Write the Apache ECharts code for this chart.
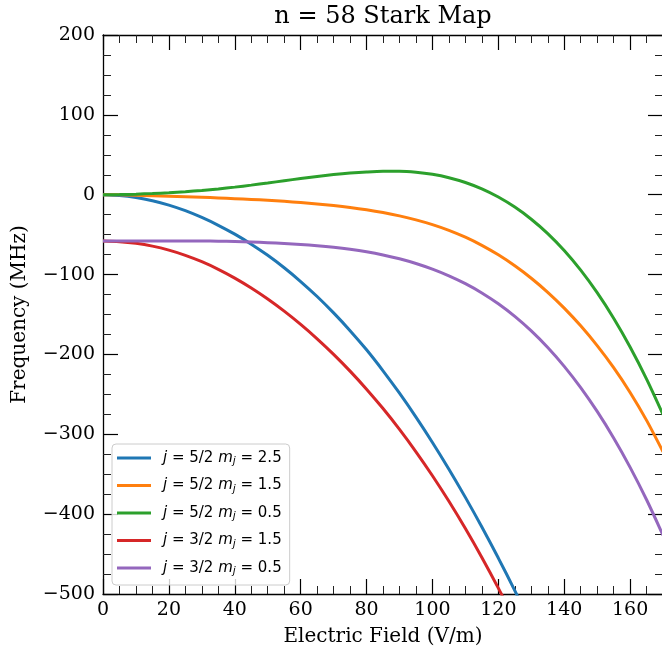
<!DOCTYPE html>
<html>
<head>
<meta charset="utf-8">
<script src="https://cdn.jsdelivr.net/npm/echarts@6/dist/echarts.min.js"></script>
<style>
  html, body { margin: 0; padding: 0; background: #fff; }
  #chart { width: 662px; height: 654px; }
</style>
</head>
<body>
<div id="chart"></div>
<script>
// Electric field samples (V/m)
const fieldE = [0, 5, 10, 15, 20, 25, 30, 35, 40, 45, 50, 55, 60, 65, 70, 75, 80, 85,
                90, 95, 100, 105, 110, 115, 120, 125, 130, 135, 140, 145, 150, 155, 160, 165, 170];

// Energy shifts (MHz) for each |j, mj> level
const shiftJ52Mj25 = [0, -1, -3.5, -7.5, -13, -20, -28.5, -38.3, -49.4, -61.9, -75.9, -91.5, -108.7, -127.5, -148, -170.2, -194.2, -220.5,
                      -248.6, -278.5, -310.2, -343.7, -379, -416.1, -455, -495.7, -538.2];
const shiftJ52Mj15 = [0, -0.2, -0.6, -1.2, -1.8, -2.5, -3.2, -4.0, -4.9, -5.9, -7.0, -8.3, -9.8, -11.5, -13.5, -15.9, -18.8, -22.3,
                      -26.5, -31.5, -37.4, -44.6, -53.2, -63.4, -75.3, -89, -104.6, -122.2, -142, -164.2, -189, -216.6, -247.6, -282.6, -322.1];
const shiftJ52Mj05 = [0, 0.2, 0.7, 1.5, 2.5, 3.8, 5.4, 7.3, 9.5, 12, 14.7, 17.5, 20.3, 22.9, 25.2, 27.1, 28.5, 29.3,
                      29.3, 28.1, 25.5, 21.3, 15.3, 7.3, -2.9, -15.5, -30.7, -48.7, -69.9, -94.5, -122.7, -154.7, -190.7, -230.9, -275.5];
const shiftJ32Mj15 = [-58, -58.8, -60.9, -64.4, -69.4, -75.9, -83.9, -93.4, -104.4, -116.8, -130.6, -145.8, -162.4, -180.4, -199.9, -220.9, -243.5, -267.8,
                      -293.9, -321.9, -351.9, -383.9, -418, -454.2, -492.6, -533.2];
const shiftJ32Mj05 = [-58, -58, -58, -58, -58, -58, -58, -58.2, -58.6, -59.2, -60, -61, -62.3, -63.9, -65.9, -68.4, -71.5, -75.4,
                      -80.2, -86.1, -93.2, -101.6, -111.4, -123, -136.6, -152.4, -170.6, -191.4, -215, -241.6, -271.4, -304.6, -341.4, -382, -426.6];

const jValues = ['5/2', '5/2', '5/2', '3/2', '3/2'];
const mjValues = ['2.5', '1.5', '0.5', '1.5', '0.5'];
const levelShifts = [shiftJ52Mj25, shiftJ52Mj15, shiftJ52Mj05, shiftJ32Mj15, shiftJ32Mj05];
const levelColors = ['#1f77b4', '#ff7f0e', '#2ca02c', '#d62728', '#9467bd'];

// The frame spans 0-170 V/m; the axis scale runs on to 180 so the 20 V/m ticks and
// 5 V/m minor ticks stay regular, and the part past 170 lies outside the page.
const xTicks = { min: 0, max: 180, interval: 20 };
const yTicks = { min: -500, max: 200, interval: 100 };

const seriesNames = jValues.map((j, i) => 'j = ' + j + ' mj = ' + mjValues[i]);

const serif = 'DejaVu Serif';
const minus = v => String(v).replace('-', '\u2212');
const spine = { show: true, onZero: false, lineStyle: { color: '#000', width: 1.3 } };
const majorTick = { show: true, inside: true, length: 15, lineStyle: { color: '#000', width: 1.2 } };
const minorTick = { show: true, splitNumber: 4, length: 8, lineStyle: { color: '#222', width: 1 } };

const chart = echarts.init(document.getElementById('chart'), null, { renderer: 'canvas' });

chart.setOption({
  animation: false,
  backgroundColor: '#fff',
  title: {
    text: 'n = 58 Stark Map',
    left: 383,
    textAlign: 'center',
    top: 5,
    padding: 0,
    textStyle: { fontFamily: serif, fontSize: 24, fontWeight: 'normal', color: '#000' }
  },
  grid: { left: 103, top: 35, width: 593, height: 559, containLabel: false, outerBoundsMode: 'none' },
  xAxis: [
    {
      type: 'value', position: 'bottom',
      min: xTicks.min, max: xTicks.max, interval: xTicks.interval,
      name: 'Electric Field (V/m)', nameLocation: 'middle', nameGap: 33,
      nameTextStyle: { fontFamily: serif, fontSize: 20, color: '#000', padding: [0, 33, 0, 0] },
      axisLine: spine, axisTick: majorTick, minorTick: minorTick,
      splitLine: { show: false },
      axisLabel: { fontFamily: serif, fontSize: 19, color: '#000', margin: 7, formatter: minus }
    },
    {
      type: 'value', position: 'top',
      min: xTicks.min, max: xTicks.max, interval: xTicks.interval,
      axisLine: spine, axisTick: majorTick, minorTick: minorTick,
      splitLine: { show: false }, axisLabel: { show: false }
    }
  ],
  yAxis: [
    {
      type: 'value', position: 'left',
      min: yTicks.min, max: yTicks.max, interval: yTicks.interval,
      name: 'Frequency (MHz)', nameLocation: 'middle', nameGap: 73,
      nameTextStyle: { fontFamily: serif, fontSize: 20, color: '#000' },
      axisLine: spine, axisTick: majorTick, minorTick: minorTick,
      splitLine: { show: false },
      axisLabel: { fontFamily: serif, fontSize: 19, color: '#000', margin: 8, formatter: minus }
    },
    {
      type: 'value', position: 'right', offset: -33,
      min: yTicks.min, max: yTicks.max, interval: yTicks.interval,
      axisLine: spine, axisTick: majorTick, minorTick: minorTick,
      splitLine: { show: false }, axisLabel: { show: false }
    }
  ],
  legend: {
    orient: 'vertical',
    left: 112, top: 444,
    padding: [5, 8, 8, 5],
    itemWidth: 34, itemHeight: 3, itemGap: 9.5,
    icon: 'rect',
    backgroundColor: 'rgba(255,255,255,0.8)',
    borderColor: '#cccccc', borderWidth: 1, borderRadius: 4,
    data: seriesNames,
    formatter: function (name) {
      const i = seriesNames.indexOf(name);
      return '{it|j} = ' + jValues[i] + ' {it|m}{sub|j} = ' + mjValues[i];
    },
    textStyle: {
      fontFamily: 'DejaVu Sans', fontSize: 15, color: '#000', lineHeight: 18, padding: [0, 0, 0, 7],
      rich: {
        it: { fontFamily: 'DejaVu Sans', fontStyle: 'italic', fontSize: 15, lineHeight: 18, color: '#000' },
        sub: { fontFamily: 'DejaVu Sans', fontStyle: 'italic', fontSize: 10.5, lineHeight: 9, verticalAlign: 'bottom', color: '#000' }
      }
    }
  },
  series: levelShifts.map((vals, i) => ({
    name: seriesNames[i],
    type: 'line',
    xAxisIndex: 0, yAxisIndex: 0,
    data: vals.map((v, k) => [fieldE[k], v]),
    showSymbol: false,
    smooth: 0.3,
    clip: true,
    lineStyle: { color: levelColors[i], width: 3 },
    itemStyle: { color: levelColors[i] },
    z: 2 + i
  }))
});
</script>
</body>
</html>
